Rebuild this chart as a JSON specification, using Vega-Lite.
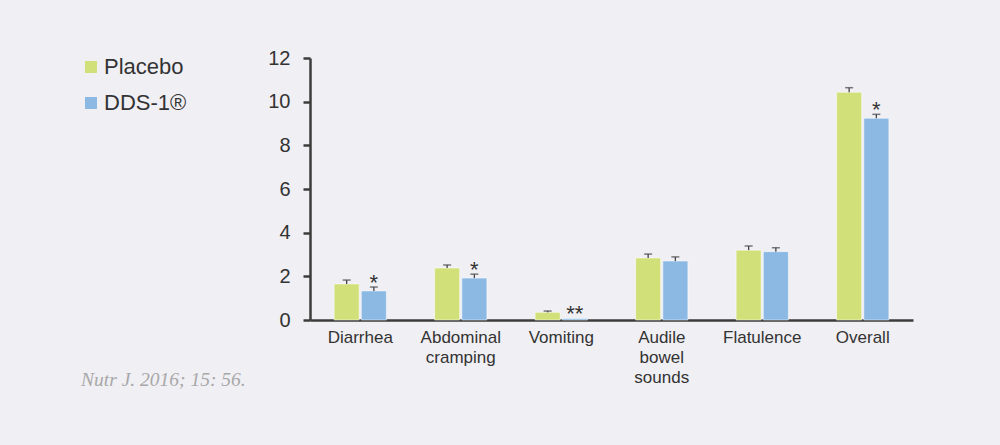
{
  "$schema": "https://vega.github.io/schema/vega-lite/v6.json",
  "autosize": {"type": "none"},
  "width": 603,
  "height": 262,
  "padding": {"left": 310, "top": 58, "right": 87, "bottom": 125},
  "background": "#f0eff4",
  "title": {
    "text": "Nutr J. 2016; 15: 56.",
    "orient": "bottom",
    "anchor": "start",
    "frame": "group",
    "dx": -229,
    "dy": -18,
    "font": "Liberation Serif",
    "fontStyle": "italic",
    "fontWeight": "normal",
    "fontSize": 19.5,
    "color": "#a8a8a8"
  },
  "data": {
    "values": [
      {"cat": "Diarrhea", "grp": "Placebo", "v": 1.65, "e": 1.83, "s": ""},
      {"cat": "Diarrhea", "grp": "DDS-1®", "v": 1.33, "e": 1.51, "s": "*"},
      {"cat": "Abdominal|cramping", "grp": "Placebo", "v": 2.38, "e": 2.52, "s": ""},
      {"cat": "Abdominal|cramping", "grp": "DDS-1®", "v": 1.92, "e": 2.10, "s": "*"},
      {"cat": "Vomiting", "grp": "Placebo", "v": 0.35, "e": 0.41, "s": ""},
      {"cat": "Vomiting", "grp": "DDS-1®", "v": 0.07, "e": 0.07, "s": "**"},
      {"cat": "Audile|bowel|sounds", "grp": "Placebo", "v": 2.84, "e": 3.02, "s": ""},
      {"cat": "Audile|bowel|sounds", "grp": "DDS-1®", "v": 2.70, "e": 2.89, "s": ""},
      {"cat": "Flatulence", "grp": "Placebo", "v": 3.20, "e": 3.39, "s": ""},
      {"cat": "Flatulence", "grp": "DDS-1®", "v": 3.13, "e": 3.31, "s": ""},
      {"cat": "Overall", "grp": "Placebo", "v": 10.43, "e": 10.64, "s": ""},
      {"cat": "Overall", "grp": "DDS-1®", "v": 9.24, "e": 9.42, "s": "*"}
    ]
  },
  "encoding": {
    "x": {
      "field": "cat",
      "type": "nominal",
      "sort": null,
      "scale": {"paddingInner": 0.48, "paddingOuter": 0.24},
      "axis": {
        "title": null,
        "labelAngle": 0,
        "labelExpr": "split(datum.value, '|')",
        "labelFont": "Liberation Sans",
        "labelFontSize": 17,
        "labelColor": "#333333",
        "labelLineHeight": 20,
        "labelPadding": 9,
        "labelBaseline": "top",
        "ticks": false,
        "tickSize": 0,
        "domainColor": "#3c3c3c",
        "domainWidth": 2.5,
        "grid": false
      }
    },
    "xOffset": {
      "field": "grp",
      "type": "nominal",
      "sort": ["Placebo", "DDS-1®"],
      "scale": {"paddingInner": 0.08, "paddingOuter": 0}
    },
    "y": {
      "field": "v",
      "type": "quantitative",
      "scale": {"domain": [0, 12], "nice": false},
      "axis": {
        "title": null,
        "values": [0, 2, 4, 6, 8, 10, 12],
        "grid": false,
        "labelFont": "Liberation Sans",
        "labelFontSize": 20,
        "labelColor": "#333333",
        "labelPadding": 13,
        "tickSize": 7,
        "tickWidth": 2.5,
        "tickColor": "#3c3c3c",
        "domainColor": "#3c3c3c",
        "domainWidth": 2.5
      }
    }
  },
  "layer": [
    {
      "mark": {"type": "bar", "stroke": "#ffffff", "strokeOpacity": 0.5, "strokeWidth": 1},
      "encoding": {
        "color": {
          "field": "grp",
          "type": "nominal",
          "scale": {"domain": ["Placebo", "DDS-1®"], "range": ["#d2e07a", "#8bb9e3"]},
          "legend": {
            "title": null,
            "orient": "none",
            "legendX": -230,
            "legendY": -2,
            "symbolType": "square",
            "symbolSize": 144,
            "symbolStrokeWidth": 0,
            "labelFont": "Liberation Sans",
            "labelFontSize": 22,
            "labelColor": "#333333",
            "labelOffset": 2,
            "rowPadding": 14,
            "padding": 0
          }
        }
      }
    },
    {
      "transform": [{"filter": "datum.e > datum.v"}],
      "mark": {"type": "rule", "color": "#444444", "strokeWidth": 1.3},
      "encoding": {"y2": {"field": "e"}}
    },
    {
      "transform": [{"filter": "datum.e > datum.v"}],
      "mark": {"type": "tick", "color": "#444444", "size": 8, "thickness": 1.5},
      "encoding": {"y": {"field": "e", "type": "quantitative"}}
    },
    {
      "mark": {"type": "text", "font": "Liberation Sans", "fontSize": 22, "color": "#333333", "baseline": "alphabetic", "dy": 3},
      "encoding": {
        "y": {"field": "e", "type": "quantitative"},
        "text": {"field": "s"}
      }
    }
  ],
  "config": {"view": {"stroke": null}}
}
